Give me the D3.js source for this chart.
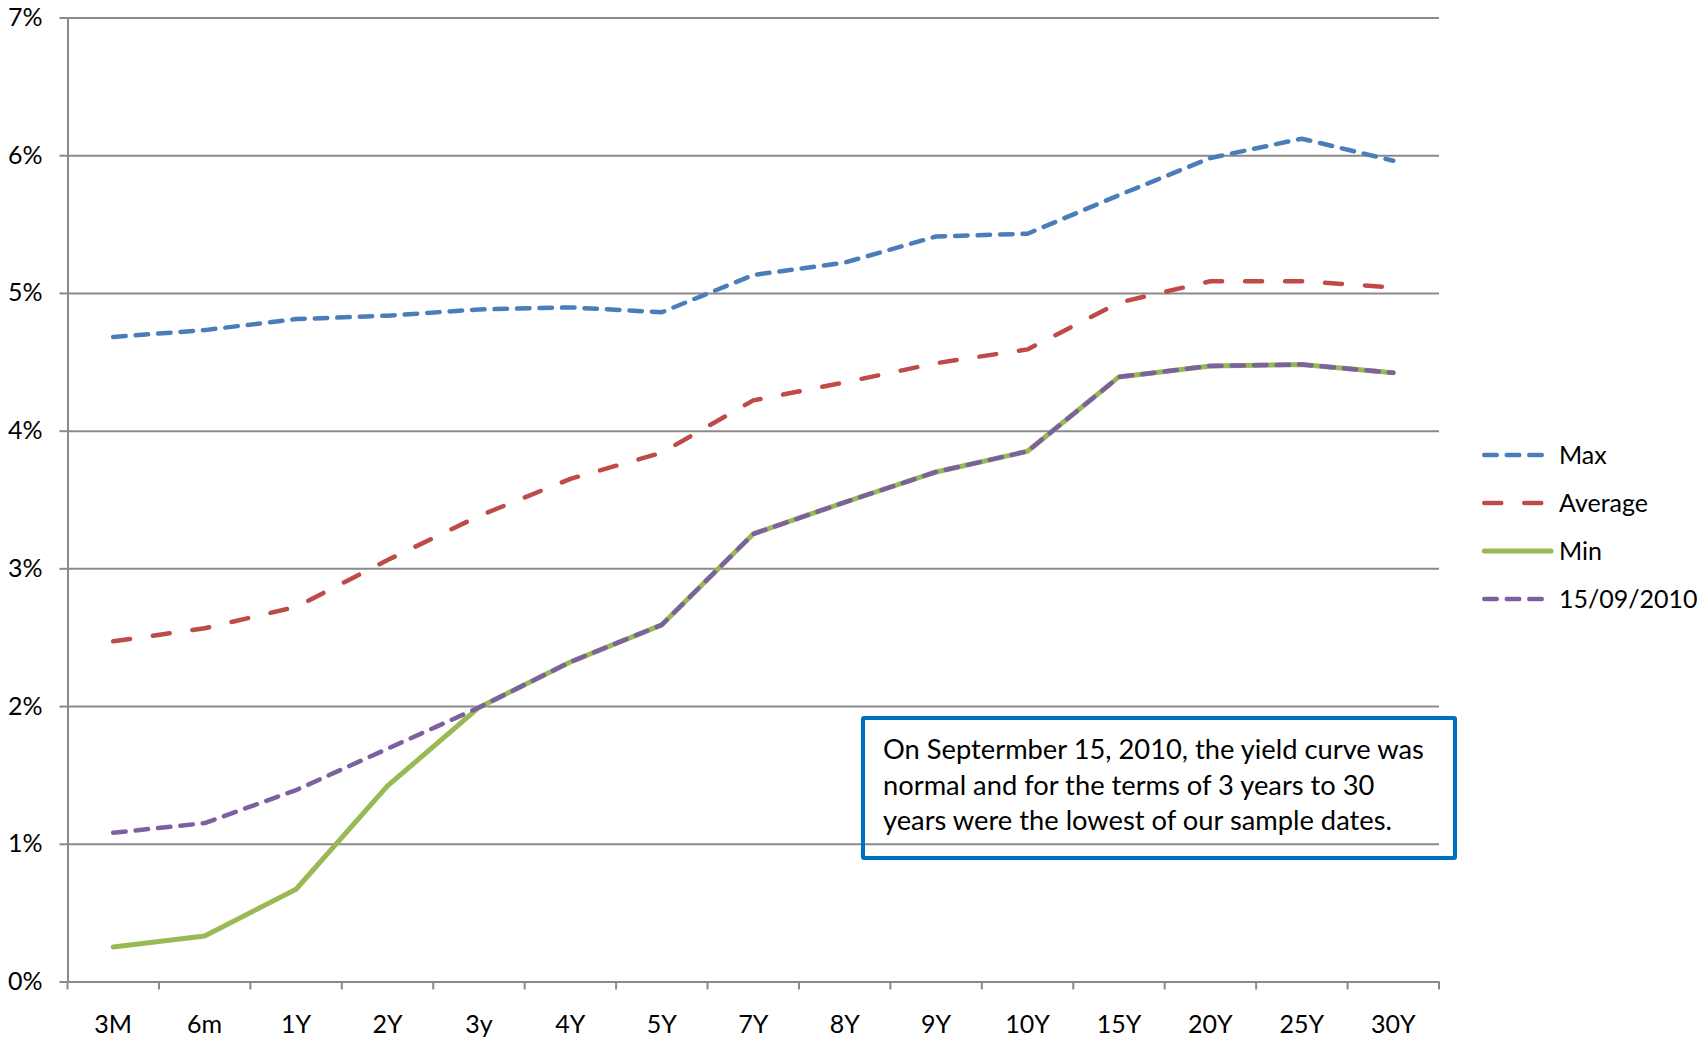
<!DOCTYPE html>
<html>
<head>
<meta charset="utf-8">
<script src="https://cdn.jsdelivr.net/npm/d3@7/dist/d3.min.js"></script>
<style>
  html, body { margin: 0; padding: 0; background: #ffffff; }
  svg { display: block; }
  text { font-family: Lato, "Open Sans", "Liberation Sans", sans-serif; fill: #000; }
</style>
</head>
<body>
<svg id="chart" width="1702" height="1039"></svg>
<script>
// ---- data ----
const categories = ["3M","6m","1Y","2Y","3y","4Y","5Y","7Y","8Y","9Y","10Y","15Y","20Y","25Y","30Y"];
const maxValues  = [4.68, 4.73, 4.81, 4.835, 4.88, 4.895, 4.86, 5.13, 5.22, 5.41, 5.43, 5.71, 5.98, 6.12, 5.96];
const avgValues  = [2.47, 2.565, 2.72, 3.06, 3.38, 3.65, 3.84, 4.22, 4.35, 4.49, 4.59, 4.93, 5.085, 5.085, 5.04];
const minValues  = [0.25, 0.33, 0.67, 1.42, 1.99, 2.32, 2.59, 3.25, 3.48, 3.70, 3.85, 4.39, 4.47, 4.48, 4.42];
const dateValues = [1.08, 1.15, 1.39, 1.69, 1.99, 2.32, 2.59, 3.25, 3.48, 3.70, 3.85, 4.39, 4.47, 4.48, 4.42];
const yTicks = [0, 1, 2, 3, 4, 5, 6, 7];
const seriesNames = ["Max", "Average", "Min", "15/09/2010"];
const annotationLines = [
  "On Septermber 15, 2010, the yield curve was",
  "normal and for the terms of 3 years to 30",
  "years were the lowest of our sample dates."
];

(function () {
// ---- styles ----
const styles = {
  "Max":        { color: "#4A7EBB", width: 4.5, dash: "12.5,10" },
  "Average":    { color: "#BE4B48", width: 4.5, dash: "17,23" },
  "Min":        { color: "#98B954", width: 5,   dash: null },
  "15/09/2010": { color: "#7D60A0", width: 4.5, dash: "12.5,10" }
};
const seriesValues = { "Max": maxValues, "Average": avgValues, "Min": minValues, "15/09/2010": dateValues };

const svg = d3.select("#chart");
const plotLeft = 67.5, plotRight = 1439, plotTop = 17.5, plotBottom = 981.5;
const gridColor = "#8a8a8a";

const x = d3.scaleBand().domain(categories).range([plotLeft, plotRight]);
const y = d3.scaleLinear().domain([0, 7]).range([plotBottom, plotTop]);

// gridlines
const grid = svg.append("g").attr("transform", `translate(${plotLeft},0)`)
  .call(d3.axisLeft(y).tickValues(yTicks.filter(v => v > 0)).tickSize(-(plotRight - plotLeft)).tickFormat(""));
grid.select(".domain").remove();
grid.selectAll("line").attr("stroke", gridColor).attr("stroke-width", 2);

// y axis
const yAxis = svg.append("g").attr("transform", `translate(${plotLeft},0)`)
  .call(d3.axisLeft(y).tickValues(yTicks).tickSize(8).tickSizeOuter(0).tickPadding(17).tickFormat(d => d + "%"));
yAxis.select(".domain").attr("stroke", gridColor).attr("stroke-width", 2);
yAxis.selectAll("line").attr("stroke", gridColor).attr("stroke-width", 2);
yAxis.selectAll("text").style("font-size", "25px").style("font-family", "Lato, sans-serif").attr("fill", "#000");

// x axis
const xAxis = svg.append("g").attr("transform", `translate(0,${plotBottom})`)
  .call(d3.axisBottom(x).tickSize(0).tickSizeOuter(0).tickPadding(43));
xAxis.select(".domain").attr("stroke", gridColor).attr("stroke-width", 2);
xAxis.selectAll("text").style("font-size", "25px").style("font-family", "Lato, sans-serif").attr("fill", "#000").attr("dy", "0.32em");
const boundaries = categories.map(c => x(c)).concat([x.range()[1]]);
xAxis.selectAll("line.bnd").data(boundaries).enter().append("line")
  .attr("class", "bnd")
  .attr("x1", d => d).attr("x2", d => d).attr("y1", 0).attr("y2", 8)
  .attr("stroke", gridColor).attr("stroke-width", 2);

// lines
const lineGen = d3.line()
  .x((d, i) => x(categories[i]) + x.bandwidth() / 2)
  .y(d => y(d));

seriesNames.forEach(name => {
  const st = styles[name];
  const p = svg.append("path")
    .attr("d", lineGen(seriesValues[name]))
    .attr("fill", "none")
    .attr("stroke", st.color)
    .attr("stroke-width", st.width)
    .attr("stroke-linejoin", "round")
    .attr("stroke-linecap", "round");
  if (st.dash) p.attr("stroke-dasharray", st.dash);
});

// legend
const legendRows = [455, 503, 551, 599];
const legend = svg.append("g");
seriesNames.forEach((name, i) => {
  const st = styles[name];
  const yy = legendRows[i];
  const x1 = 1484.25;
  const x2 = name === "Min" ? 1551 : (name === "Average" ? 1541.25 : 1541.75);
  const l = legend.append("line")
    .attr("x1", x1).attr("x2", x2).attr("y1", yy).attr("y2", yy)
    .attr("stroke", st.color).attr("stroke-width", st.width)
    .attr("stroke-linecap", "round");
  if (st.dash) l.attr("stroke-dasharray", st.dash);
  legend.append("text")
    .attr("x", 1559).attr("y", yy).attr("dy", "0.35em")
    .style("font-size", "25px")
    .text(name);
});

// annotation box
svg.append("rect")
  .attr("x", 863).attr("y", 718).attr("width", 592).attr("height", 140)
  .attr("fill", "none").attr("stroke", "#0070C0").attr("stroke-width", 4)
  .attr("rx", 1);
const ann = svg.append("g");
annotationLines.forEach((t, i) => {
  ann.append("text")
    .attr("x", 883).attr("y", 759 + i * 35.5)
    .style("font-size", "27.3px")
    .text(t);
});
})();
</script>
</body>
</html>
